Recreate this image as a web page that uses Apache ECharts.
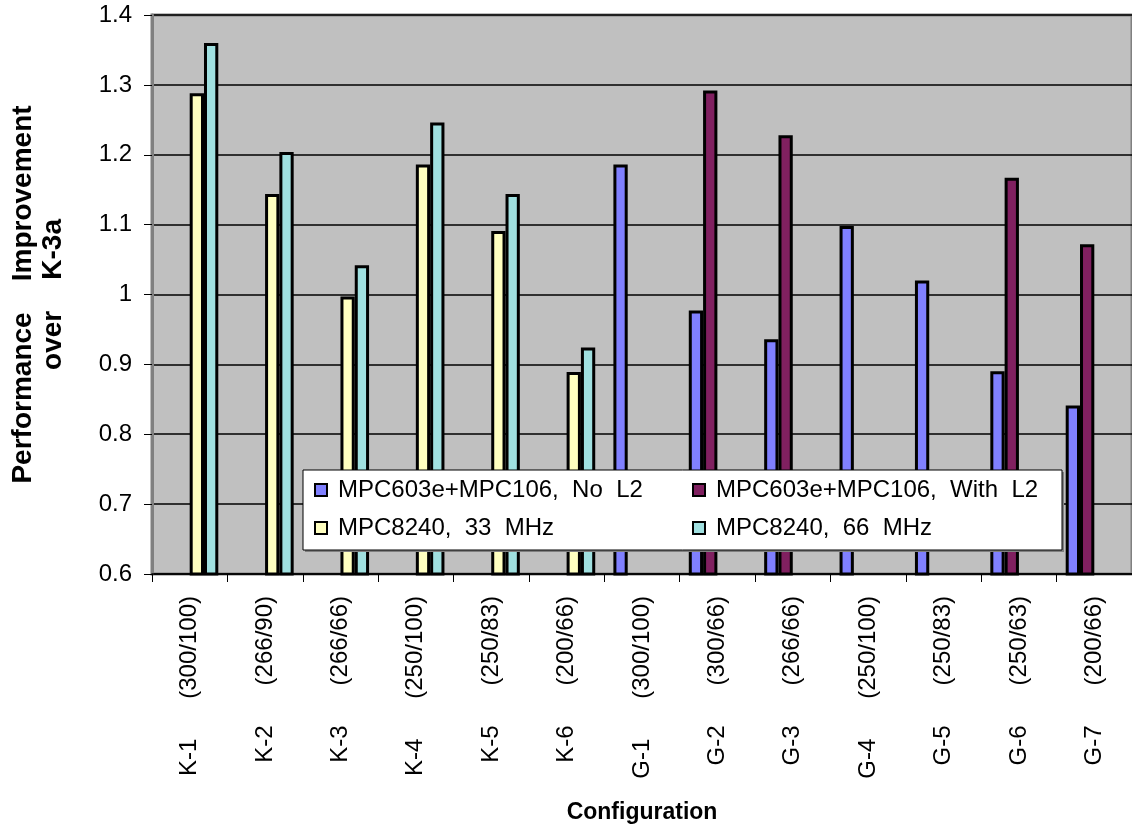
<!DOCTYPE html>
<html>
<head>
<meta charset="utf-8">
<script src="https://cdn.jsdelivr.net/npm/echarts@6/dist/echarts.min.js"></script>
<style>
  html, body { margin: 0; padding: 0; background: #fff; overflow: hidden; }
  #chart { width: 1132px; height: 829px; }
</style>
</head>
<body>
<div id="chart"></div>
<script>
// ---- data ----
const categories = ['K-1      (300/100)', 'K-2      (266/90)', 'K-3      (266/66)', 'K-4      (250/100)', 'K-5      (250/83)', 'K-6      (200/66)',
                    'G-1      (300/100)', 'G-2      (300/66)', 'G-3      (266/66)', 'G-4      (250/100)', 'G-5      (250/83)', 'G-6      (250/63)', 'G-7      (200/66)'];
const seriesNames = ['MPC603e+MPC106,  No  L2', 'MPC603e+MPC106,  With  L2', 'MPC8240,  33  MHz', 'MPC8240,  66  MHz'];
const noL2   = [null, null, null, null, null, null, 1.186, 0.977, 0.936, 1.098, 1.020, 0.890, 0.841];
const withL2 = [null, null, null, null, null, null, null, 1.292, 1.228, null, null, 1.167, 1.072];
const mhz33  = [1.288, 1.144, 0.997, 1.186, 1.091, 0.889, null, null, null, null, null, null, null];
const mhz66  = [1.360, 1.204, 1.042, 1.246, 1.144, 0.924, null, null, null, null, null, null, null];
const yTicks = { min: 0.6, max: 1.4, interval: 0.1 };
const xTitle = 'Configuration';
const yTitle = 'Performance    Improvement\nover    K-3a';

const colors = ['#8080FF', '#802060', '#FFFFC0', '#A0E0E0'];
const FONT = "'Liberation Sans', Arial, Helvetica, sans-serif";

const chart = echarts.init(document.getElementById('chart'), null, { renderer: 'canvas', width: 1132, height: 829 });

function bar(name, data, color) {
  return {
    name, type: 'bar', data,
    barWidth: 14.3, barGap: '0%',
    itemStyle: { color, borderColor: '#000', borderWidth: 3 },
    emphasis: { disabled: true },
    animation: false
  };
}

const legendText = { fontSize: 24, lineHeight: 24, color: '#000', fontFamily: FONT, padding: [0, 0, 0, 6] };

const option = {
  animation: false,
  textStyle: { fontFamily: FONT },
  grid: { left: 151, top: 15, width: 985, height: 563, show: true, backgroundColor: '#C0C0C0', borderColor: '#808080', borderWidth: 3 },
  xAxis: {
    type: 'category', data: categories,
    axisLine: { show: true, lineStyle: { color: '#000', width: 1.5 } },
    axisTick: { show: true, alignWithLabel: false, length: 8, lineStyle: { color: '#000', width: 1 } },
    axisLabel: { interval: 0, rotate: 90, margin: 22, fontSize: 24, color: '#000', fontFamily: FONT },
    name: xTitle, nameLocation: 'middle', nameGap: 227,
    nameTextStyle: { fontSize: 23, fontWeight: 'bold', color: '#000', fontFamily: FONT },
    splitLine: { show: false }
  },
  yAxis: {
    type: 'value', min: yTicks.min, max: yTicks.max, interval: yTicks.interval,
    axisLine: { show: true, lineStyle: { color: '#808080', width: 3 } },
    axisTick: { show: true, length: 8, lineStyle: { color: '#000', width: 1 } },
    axisLabel: { margin: 20, fontSize: 24, color: '#000', fontFamily: FONT },
    splitLine: { show: true, lineStyle: { color: '#000', width: 1.5 } },
    name: yTitle, nameLocation: 'middle', nameRotate: 90, nameGap: 84,
    nameTextStyle: { fontSize: 28, fontWeight: 'bold', color: '#000', lineHeight: 30, align: 'center', fontFamily: FONT }
  },
  legend: [
    {
      orient: 'vertical', left: 314, top: 478, padding: 0, itemWidth: 12, itemHeight: 12, itemGap: 14, z: 20,
      icon: 'rect', data: [seriesNames[0], seriesNames[2]],
      itemStyle: { borderColor: '#000', borderWidth: 2 },
      textStyle: legendText, selectedMode: false
    },
    {
      orient: 'vertical', left: 692, top: 478, padding: 0, itemWidth: 12, itemHeight: 12, itemGap: 14, z: 20,
      icon: 'rect', data: [seriesNames[1], seriesNames[3]],
      itemStyle: { borderColor: '#000', borderWidth: 2 },
      textStyle: legendText, selectedMode: false
    }
  ],
  graphic: [
    { type: 'rect', z: 15, shape: { x: 305, y: 472, width: 759, height: 80 }, style: { fill: '#808080' } },
    { type: 'rect', z: 16, shape: { x: 303, y: 470, width: 759, height: 80 }, style: { fill: '#fff', stroke: '#000', lineWidth: 1 } }
  ],
  series: [
    bar(seriesNames[0], noL2, colors[0]),
    bar(seriesNames[1], withL2, colors[1]),
    bar(seriesNames[2], mhz33, colors[2]),
    bar(seriesNames[3], mhz66, colors[3])
  ]
};
chart.setOption(option);
</script>
</body>
</html>
